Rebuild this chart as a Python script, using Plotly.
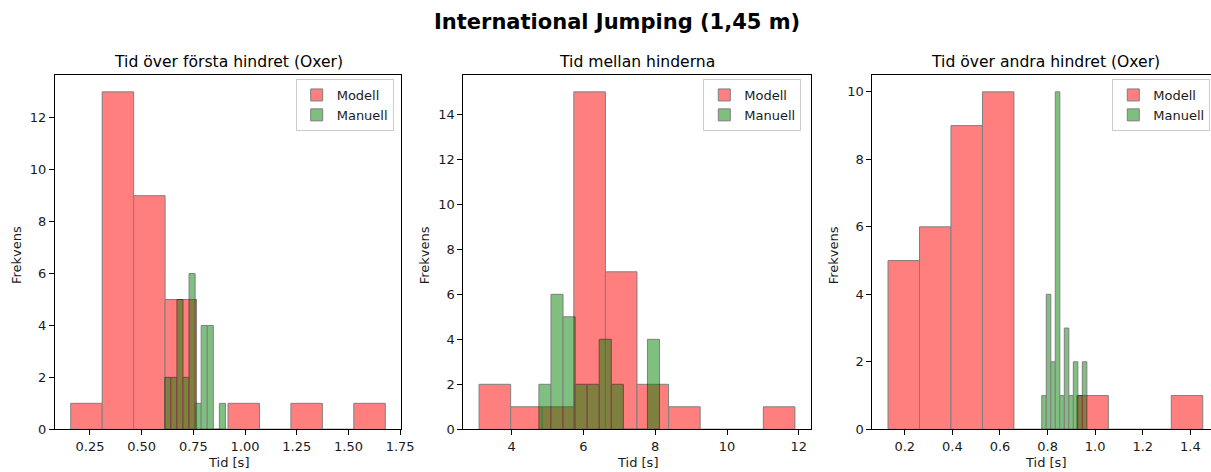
import numpy as np
import plotly.graph_objects as go

# ---- data (10 equal-width bins per histogram) ----
titles = ["Tid över första hindret (Oxer)", "Tid mellan hinderna", "Tid över andra hindret (Oxer)"]
suptitle = "International Jumping (1,45 m)"

modell1_range = [0.157, 1.678]
modell1_counts = [1, 13, 9, 5, 0, 1, 0, 1, 0, 1]
manuell1_range = [0.612, 0.905]
manuell1_counts = [2, 2, 5, 2, 6, 1, 4, 4, 0, 1]

modell2_range = [3.096, 11.89]
modell2_counts = [2, 1, 1, 15, 7, 2, 1, 0, 0, 1]
manuell2_range = [4.762, 8.12]
manuell2_counts = [2, 6, 5, 2, 2, 4, 2, 0, 0, 4]

modell3_range = [0.1297, 1.452]
modell3_counts = [5, 6, 9, 10, 0, 0, 1, 0, 0, 1]
manuell3_range = [0.7756, 0.965]
manuell3_counts = [1, 4, 2, 10, 1, 3, 1, 2, 1, 2]

xticks1 = [0.25, 0.50, 0.75, 1.00, 1.25, 1.50, 1.75]
xticks2 = [4, 6, 8, 10, 12]
xticks3 = [0.2, 0.4, 0.6, 0.8, 1.0, 1.2, 1.4]

W, H = 1211, 472
FONT = "DejaVu Sans"
TXT = "#1a1a1a"

panels = [
    dict(mod=(modell1_range, modell1_counts), man=(manuell1_range, manuell1_counts),
         xt=xticks1, xtt=[f"{v:.2f}" for v in xticks1], ymax=12, px=(55, 401)),
    dict(mod=(modell2_range, modell2_counts), man=(manuell2_range, manuell2_counts),
         xt=xticks2, xtt=[str(v) for v in xticks2], ymax=14, px=(463.3, 810.7)),
    dict(mod=(modell3_range, modell3_counts), man=(manuell3_range, manuell3_counts),
         xt=xticks3, xtt=[f"{v:.1f}" for v in xticks3], ymax=10, px=(872.3, 1218.5)),
]

top_px, bot_px = 75, 429.3
ydom = [1 - bot_px / H, 1 - top_px / H]

fig = go.Figure()
annotations = []
layout = {}


def bins(rng, counts):
    edges = np.linspace(rng[0], rng[1], len(counts) + 1)
    return (edges[:-1] + edges[1:]) / 2, np.diff(edges)


for i, p in enumerate(panels, start=1):
    xa = "x" if i == 1 else f"x{i}"
    ya = "y" if i == 1 else f"y{i}"
    lg = "legend" if i == 1 else f"legend{i}"
    allx = list(p["mod"][0]) + list(p["man"][0])
    lo, hi = min(allx), max(allx)
    m = (hi - lo) * 0.05
    xr = [lo - m, hi + m]
    left_px, right_px = p["px"]
    # clip panel to figure width while keeping scale
    if right_px > W:
        scale = (xr[1] - xr[0]) / (right_px - left_px)
        xr[1] = xr[0] + (W - left_px) * scale
        right_px = W
    for name, (rng, cnt), col in [("Modell", p["mod"], "red"), ("Manuell", p["man"], "green")]:
        cx, wd = bins(rng, cnt)
        fig.add_trace(go.Bar(
            x=cx, y=cnt, width=wd, name=name, xaxis=xa, yaxis=ya, legend=lg,
            marker=dict(color=col, line=dict(color="black", width=1)), opacity=0.5,
        ))
    maxc = max(max(p["mod"][1]), max(p["man"][1]))
    xkey = "xaxis" if i == 1 else f"xaxis{i}"
    ykey = "yaxis" if i == 1 else f"yaxis{i}"
    layout[xkey] = dict(
        domain=[left_px / W, right_px / W], range=xr, anchor=ya, automargin=False,
        tickmode="array", tickvals=p["xt"], ticktext=p["xtt"],
        ticks="outside", ticklen=5, tickwidth=1, tickcolor="black",
        showline=True, linecolor="black", linewidth=1, mirror=True,
        showgrid=False, zeroline=False,
        tickfont=dict(family=FONT, size=13, color=TXT),
    )
    layout[ykey] = dict(
        domain=ydom, range=[0, maxc * 1.05], anchor=xa, automargin=False,
        tickmode="array", tickvals=list(range(0, p["ymax"] + 1, 2)),
        ticks="outside", ticklen=5, tickwidth=1, tickcolor="black",
        showline=True, linecolor="black", linewidth=1, mirror=(i != 3),
        showgrid=False, zeroline=False,
        tickfont=dict(family=FONT, size=13, color=TXT),
    )
    cxp = (p["px"][0] + p["px"][1]) / 2
    annotations.append(dict(text=titles[i - 1], x=cxp / W, y=1 - 62 / H, xref="paper", yref="paper",
                            xanchor="center", yanchor="middle", showarrow=False,
                            font=dict(family=FONT, size=15.6, color="black")))
    annotations.append(dict(text="Tid [s]", x=cxp / W, y=1 - 462 / H, xref="paper", yref="paper",
                            xanchor="center", yanchor="middle", showarrow=False,
                            font=dict(family=FONT, size=13, color=TXT)))
    annotations.append(dict(text="Frekvens", x=(left_px - 39) / W, y=1 - 255 / H, xref="paper", yref="paper",
                            xanchor="center", yanchor="middle", showarrow=False, textangle=-90,
                            font=dict(family=FONT, size=13, color=TXT)))
    leg_left = [295.7, 703.3, 1112.3][i - 1]
    layout[lg] = dict(
        x=leg_left / W, y=1 - 79 / H, xref="paper", yref="paper", xanchor="left", yanchor="top",
        bgcolor="rgba(255,255,255,0.8)", bordercolor="#cccccc", borderwidth=1,
        font=dict(family=FONT, size=13, color=TXT), tracegroupgap=0,
    )

annotations.append(dict(text="<b>" + suptitle + "</b>", x=616.5 / W, y=1 - 22 / H, xref="paper", yref="paper",
                        xanchor="center", yanchor="middle", showarrow=False,
                        font=dict(family=FONT, size=21, color="black")))

fig.update_layout(
    width=W, height=H, margin=dict(l=0, r=0, t=0, b=0, autoexpand=False),
    plot_bgcolor="white", paper_bgcolor="white",
    barmode="overlay", annotations=annotations, showlegend=True,
    **layout,
)

fig.write_html("out.html", config={"displayModeBar": False},
               post_script="document.body.style.margin='0';document.body.style.overflow='hidden';")
